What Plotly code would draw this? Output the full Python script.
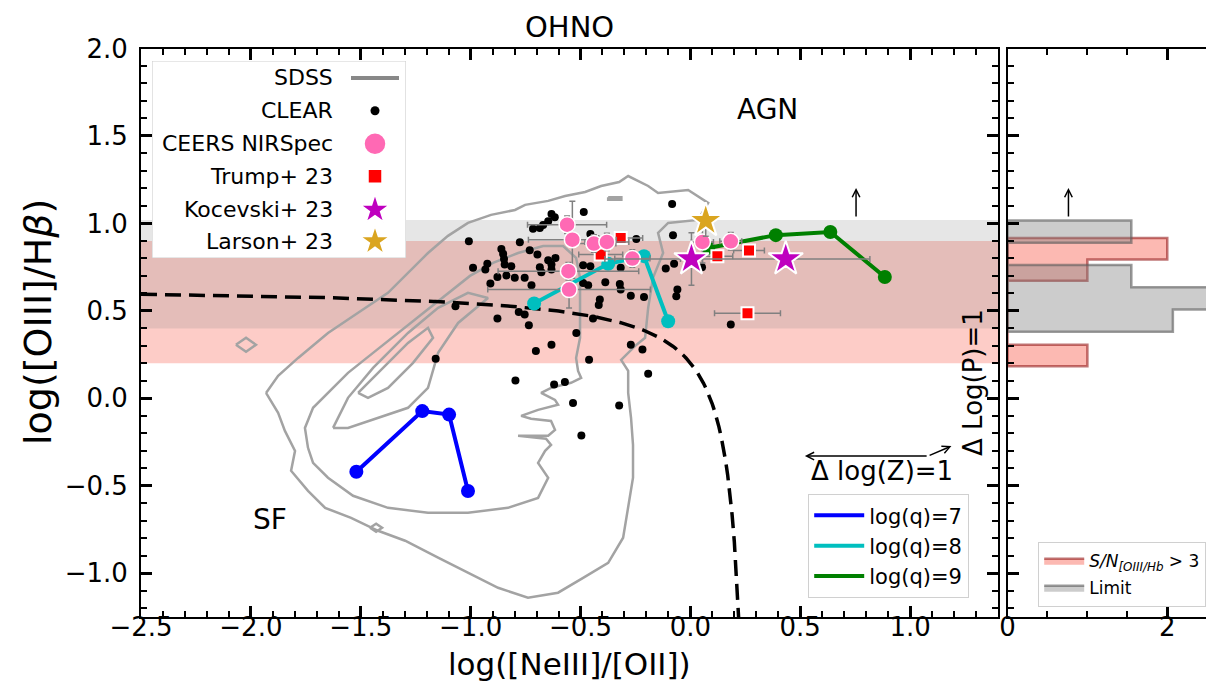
import plotly.graph_objects as go

W, H = 1214, 681
FONT = "DejaVu Sans"

# ---------------- data ----------------
# SDSS contour levels (traced polylines, data units)
sdss_l1_x = [-1.931, -1.876, -1.845, -1.799, -1.817, -1.740, -1.662, -1.544, -1.421, -1.298, -1.148, -1.012, -0.875, -0.739, -0.602, -0.488, -0.374, -0.306, -0.283, -0.261, -0.261, -0.270, -0.283, -0.283, -0.315, -0.251, -0.206, -0.192, -0.170, -0.124, -0.147, -0.101, 0.035, 0.081, -0.010, -0.147, -0.192, -0.283, -0.324, -0.406, -0.479, -0.570, -0.647, -0.752, -0.798, -0.907, -1.012, -1.103, -1.194, -1.285, -1.376, -1.512, -1.649, -1.785, -1.876, -1.931]
sdss_l1_y = [0.031, -0.083, -0.186, -0.300, -0.414, -0.529, -0.626, -0.683, -0.757, -0.814, -0.911, -0.997, -1.083, -1.140, -1.111, -1.026, -0.940, -0.797, -0.626, -0.454, -0.266, -0.111, 0.031, 0.157, 0.220, 0.300, 0.346, 0.517, 0.689, 0.831, 0.946, 1.003, 1.020, 1.117, 1.191, 1.174, 1.214, 1.271, 1.237, 1.214, 1.180, 1.157, 1.129, 1.106, 1.077, 1.049, 1.003, 0.929, 0.831, 0.717, 0.603, 0.489, 0.374, 0.231, 0.129, 0.031]
sdss_l2_x = [-1.740, -1.754, -1.717, -1.649, -1.558, -1.444, -1.330, -1.216, -1.103, -1.003, -0.898, -0.784, -0.670, -0.579, -0.520, -0.502, -0.502, -0.502, -0.520, -0.511, -0.497, -0.543, -0.634, -0.679, -0.616, -0.602, -0.693, -0.770, -0.725, -0.634, -0.616, -0.647, -0.784, -0.657, -0.634, -0.661, -0.693, -0.647, -0.693, -0.830, -1.012, -1.194, -1.376, -1.535, -1.649, -1.717, -1.740]
sdss_l2_y = [-0.283, -0.169, -0.054, 0.031, 0.146, 0.260, 0.374, 0.489, 0.603, 0.700, 0.774, 0.831, 0.871, 0.871, 0.803, 0.689, 0.517, 0.346, 0.231, 0.157, 0.117, 0.089, 0.060, 0.031, -0.009, -0.037, -0.066, -0.100, -0.117, -0.129, -0.180, -0.214, -0.214, -0.231, -0.266, -0.300, -0.369, -0.454, -0.569, -0.626, -0.654, -0.654, -0.626, -0.557, -0.454, -0.369, -0.283]
sdss_l3_x = [-1.626, -1.558, -1.444, -1.285, -1.148, -1.012, -0.921, -1.057, -1.148, -1.194, -1.285, -1.421, -1.558, -1.626]
sdss_l3_y = [-0.169, 0.003, 0.174, 0.374, 0.517, 0.603, 0.574, 0.431, 0.260, 0.060, -0.054, -0.111, -0.169, -0.169]
sdss_l4_x = [-1.512, -1.421, -1.285, -1.194, -1.171, -1.262, -1.376, -1.467, -1.512]
sdss_l4_y = [0.031, 0.146, 0.317, 0.403, 0.346, 0.203, 0.060, 0.003, 0.031]
sdss_i1_x = [-2.068, -2.022, -1.977, -2.022, -2.068]
sdss_i1_y = [0.306, 0.346, 0.306, 0.266, 0.306]
sdss_i2_x = [-1.458, -1.430, -1.403, -1.430, -1.458]
sdss_i2_y = [-0.740, -0.717, -0.740, -0.763, -0.740]
sdss_i3_x = [-0.374, -0.314, -0.314, -0.374, -0.374]
sdss_i3_y = [1.150, 1.150, 1.135, 1.135, 1.150]

# CLEAR galaxies
clear_x = [-0.083, -0.485, -0.632, -0.617, -0.647, -0.685, -0.716, -0.670, -0.455, -0.246, -1.008, -0.776, -0.079, -0.860, -0.731, -0.696, -0.852, -0.848, -0.647, -0.614, -0.924, -0.815, -0.685, -0.632, -0.488, -0.455, -0.989, -0.933, -0.317, -0.112, -0.074, 0.053, -0.678, -0.632, -0.878, -0.837, -0.799, -0.754, -0.910, -0.723, -0.488, -0.465, -0.387, -0.321, -0.317, -0.059, -0.064, -0.271, -0.211, -0.412, -0.417, -1.069, -0.781, -0.754, -0.878, -0.443, -0.735, 0.184, -0.519, -0.632, -0.271, -0.703, -0.218, -0.461, -0.796, -0.620, -0.571, -0.192, -0.534, -0.324, -0.496, -1.159, -0.845]
clear_y = [1.111, 1.066, 1.054, 1.035, 1.013, 0.974, 0.970, 0.991, 0.940, 0.911, 0.898, 0.893, 0.933, 0.854, 0.847, 0.822, 0.826, 0.797, 0.790, 0.803, 0.769, 0.755, 0.750, 0.765, 0.761, 0.755, 0.746, 0.736, 0.746, 0.742, 0.769, 0.750, 0.721, 0.736, 0.694, 0.702, 0.689, 0.689, 0.656, 0.647, 0.660, 0.647, 0.664, 0.654, 0.622, 0.622, 0.584, 0.587, 0.580, 0.565, 0.533, 0.527, 0.493, 0.479, 0.456, 0.456, 0.418, 0.422, 0.374, 0.307, 0.307, 0.270, 0.279, 0.220, 0.102, 0.079, 0.093, 0.140, -0.026, -0.041, -0.213, 0.227, 0.765]

# CEERS NIRSpec
ceers_x = [-0.561, -0.537, -0.439, -0.380, -0.264, -0.555, -0.552, 0.055, 0.184]
ceers_y = [0.993, 0.907, 0.885, 0.894, 0.799, 0.727, 0.622, 0.894, 0.898]
ceers_xerr = [0.18, 0.20, 0.10, 0.10, 0.08, 0.32, 0.37, 0.05, 0.05]
ceers_yerr = [0.05, 0.22, 0.05, 0.05, 0.05, 0.05, 0.105, 0.12, 0.05]

# Trump+23
trump_x = [-0.317, -0.408, 0.123, 0.267, 0.260]
trump_y = [0.917, 0.822, 0.813, 0.845, 0.487]
trump_xerr = [0.10, 0.10, 0.07, 0.07, 0.15]
trump_yerr = [0.03, 0.03, 0.03, 0.03, 0.03]

# Kocevski+23
koc_x = [0.005, 0.434]
koc_y = [0.797, 0.797]
koc_xerr_minus = [0.05, 0.823]
koc_xerr_plus = [0.05, 0.383]
koc_yerr = [0.15, 0.02]

# Larson+23
lar_x = [0.070]
lar_y = [1.016]
lar_yerr_minus = [0.09]

# photoionisation model tracks
q7_x = [-1.520, -1.220, -1.098, -1.012]
q7_y = [-0.420, -0.073, -0.093, -0.530]
q8_x = [-0.711, -0.374, -0.211, -0.101]
q8_y = [0.542, 0.769, 0.813, 0.441]
q9_x = [0.081, 0.389, 0.637, 0.885]
q9_y = [0.860, 0.933, 0.951, 0.694]

# demarcation line log(OIII/Hb) = a / (b*x - c) + d
demarc_a, demarc_b, demarc_c, demarc_d = 0.35, 2.8, 0.8, 0.64
demarc_x = [-2.5 + i * 0.01 for i in range(273)]

# histograms of log(OIII/Hb) (stepfilled)
hist_sn_edges = [0.184, 0.306, 0.428, 0.550, 0.672, 0.794, 0.916]
hist_sn_counts = [1.0, 0.0, 0.0, 0.0, 1.0, 2.0]
hist_lim_edges = [0.381, 0.508, 0.635, 0.762, 0.889, 1.016]
hist_lim_counts = [2.07, 2.58, 1.55, 0.0, 1.55]

# shaded bands
band_sn = (0.20, 0.90)
band_lim = (0.40, 1.02)

# legend labels
leg1_labels = ["SDSS", "CLEAR", "CEERS NIRSpec", "Trump+ 23", "Kocevski+ 23", "Larson+ 23"]

# ---------------- figure ----------------
fig = go.Figure()

GRAYC = "#a3a3a3"
sdss = [(sdss_l1_x, sdss_l1_y), (sdss_l2_x, sdss_l2_y), (sdss_l3_x, sdss_l3_y), (sdss_l4_x, sdss_l4_y),
        (sdss_i1_x, sdss_i1_y), (sdss_i2_x, sdss_i2_y), (sdss_i3_x, sdss_i3_y)]
for cx, cy in sdss:
    fig.add_trace(go.Scatter(x=cx, y=cy, mode="lines", line=dict(color=GRAYC, width=2.5),
                             showlegend=False, hoverinfo="skip"))

fig.add_trace(go.Scatter(x=clear_x, y=clear_y, mode="markers", showlegend=False,
                         marker=dict(color="black", size=8)))

demarc_y = [demarc_a / (demarc_b * x - demarc_c) + demarc_d for x in demarc_x]
fig.add_trace(go.Scatter(x=demarc_x, y=demarc_y, mode="lines", showlegend=False,
                         line=dict(color="black", width=3.5, dash="16px,8px")))

tracks = [("log(q)=7", q7_x, q7_y, "#0000ff"),
          ("log(q)=8", q8_x, q8_y, "#00bfbf"),
          ("log(q)=9", q9_x, q9_y, "#008000")]
for nm, tx, ty, col in tracks:
    fig.add_trace(go.Scatter(x=tx, y=ty, mode="lines+markers", showlegend=False,
                             line=dict(color=col, width=4), marker=dict(color=col, size=14)))
for nm, tx, ty, col in tracks:
    fig.add_trace(go.Scatter(x=[None], y=[None], mode="lines", name=nm, legendgroup=nm,
                             line=dict(color=col, width=4), legend="legend2"))

ERR = dict(color="#808080", thickness=1.5, width=3)
fig.add_trace(go.Scatter(x=trump_x, y=trump_y, mode="markers", showlegend=False,
                         marker=dict(color="red", symbol="square", size=12, line=dict(color="white", width=2)),
                         error_x=dict(type="data", array=trump_xerr, **ERR),
                         error_y=dict(type="data", array=trump_yerr, **ERR)))
fig.add_trace(go.Scatter(x=ceers_x, y=ceers_y, mode="markers", showlegend=False,
                         marker=dict(color="#ff69b4", size=16, line=dict(color="white", width=1.5)),
                         error_x=dict(type="data", array=ceers_xerr, **ERR),
                         error_y=dict(type="data", array=ceers_yerr, **ERR)))
fig.add_trace(go.Scatter(x=koc_x, y=koc_y, mode="markers", showlegend=False,
                         marker=dict(color="#bf00bf", symbol="star", size=26, line=dict(color="white", width=2)),
                         error_x=dict(type="data", symmetric=False, array=koc_xerr_plus, arrayminus=koc_xerr_minus, **ERR),
                         error_y=dict(type="data", array=koc_yerr, **ERR)))
fig.add_trace(go.Scatter(x=lar_x, y=lar_y, mode="markers", showlegend=False,
                         marker=dict(color="#daa520", symbol="star", size=26, line=dict(color="white", width=2)),
                         error_y=dict(type="data", symmetric=False, array=[0], arrayminus=lar_yerr_minus, **ERR)))


def step_poly(edges, counts):
    px, py = [0.0], [edges[0]]
    for i, c in enumerate(counts):
        px += [c, c]
        py += [edges[i], edges[i + 1]]
    px += [0.0, 0.0]
    py += [edges[-1], edges[0]]
    return px, py


sx, sy = step_poly(hist_sn_edges, hist_sn_counts)
fig.add_trace(go.Scatter(x=sx, y=sy, xaxis="x2", yaxis="y2", mode="lines", fill="toself",
                         fillcolor="rgba(250,128,114,0.55)", line=dict(color="rgba(150,30,30,0.6)", width=2.5),
                         name="<i>S/N</i><sub><i>[OIII/Hb</i></sub> > 3", legend="legend3", legendgroup="sn"))
lx, ly = step_poly(hist_lim_edges, hist_lim_counts)
fig.add_trace(go.Scatter(x=lx, y=ly, xaxis="x2", yaxis="y2", mode="lines", fill="toself",
                         fillcolor="rgba(128,128,128,0.4)", line=dict(color="rgba(90,90,90,0.6)", width=2.5),
                         name="Limit", legend="legend3", legendgroup="lim"))

# ---- legend 1 (labels right-aligned, keys on the right), drawn on a pixel-scaled overlay axis ----
LB = dict(x0=144, x1=398, y0=53, y1=250)           # legend box (pixels)
rows = [70, 102.7, 135.7, 168.3, 201.7, 233.3]      # row centres (pixels)
key_x, text_x = 367, 327
fig.add_trace(go.Scatter(x=[LB["x0"], LB["x1"], LB["x1"], LB["x0"], LB["x0"]],
                         y=[LB["y0"], LB["y0"], LB["y1"], LB["y1"], LB["y0"]],
                         xaxis="x3", yaxis="y3", mode="lines", fill="toself",
                         fillcolor="rgba(255,255,255,0.8)", line=dict(color="#d0d0d0", width=1.2),
                         showlegend=False, hoverinfo="skip"))
fig.add_trace(go.Scatter(x=[key_x - 24, key_x + 24], y=[rows[0], rows[0]], xaxis="x3", yaxis="y3",
                         mode="lines", line=dict(color="#888888", width=4), showlegend=False, hoverinfo="skip"))
leg_keys = [
    dict(color="black", size=9),
    dict(color="#ff69b4", size=22, line=dict(color="white", width=1.5)),
    dict(color="red", symbol="square", size=14, line=dict(color="white", width=1.5)),
    dict(color="#bf00bf", symbol="star", size=22, line=dict(color="white", width=1.5)),
    dict(color="#daa520", symbol="star", size=22, line=dict(color="white", width=1.5)),
]
for r, mk in zip(rows[1:], leg_keys):
    fig.add_trace(go.Scatter(x=[key_x], y=[r], xaxis="x3", yaxis="y3", mode="markers", marker=mk,
                             showlegend=False, hoverinfo="skip"))

# bands
fig.add_shape(type="rect", xref="x domain", yref="y", x0=0, x1=1, y0=band_sn[0], y1=band_sn[1],
              fillcolor="rgba(250,128,114,0.4)", line_width=0, layer="below")
fig.add_shape(type="rect", xref="x domain", yref="y", x0=0, x1=1, y0=band_lim[0], y1=band_lim[1],
              fillcolor="rgba(128,128,128,0.2)", line_width=0, layer="below")

TICKF = dict(family=FONT, size=26, color="black")
axis_common = dict(showline=True, linecolor="black", linewidth=2, mirror="allticks", ticks="inside",
                   ticklen=11, tickwidth=2.5, tickcolor="black", showgrid=False, zeroline=False,
                   tickfont=TICKF, automargin=False)
MINOR = dict(ticks="inside", ticklen=6, tickwidth=2, tickcolor="black")
xd = [133 / W, 990 / W]
x2d = [999.5 / W, 1212 / W]
yd = [1 - 609 / H, 1 - 40.5 / H]

fig.update_layout(
    width=W, height=H, margin=dict(l=0, r=0, t=0, b=0, autoexpand=False),
    paper_bgcolor="white", plot_bgcolor="white",
    font=dict(family=FONT, color="black"),
    xaxis=dict(domain=xd, range=[-2.5, 1.4], dtick=0.5, tick0=-2.5, tickformat=".1f",
               minor=dict(dtick=0.1, **MINOR), anchor="y", ticklabelstandoff=-14, **axis_common),
    yaxis=dict(domain=yd, range=[-1.25, 2.0], dtick=0.5, tick0=0, tickformat=".1f",
               minor=dict(dtick=0.1, **MINOR), anchor="x", ticklabelstandoff=6, **axis_common),
    xaxis2=dict(domain=x2d, range=[0, 2.66], tickvals=[0, 2], ticktext=["0", "2"],
                minor=dict(dtick=0.5, **MINOR), anchor="y2", ticklabelstandoff=-14, **axis_common),
    yaxis2=dict(domain=yd, range=[-1.25, 2.0], dtick=0.5, tick0=0, showticklabels=False,
                minor=dict(dtick=0.1, **MINOR), anchor="x2", **axis_common),
    xaxis3=dict(domain=[LB["x0"] / W, LB["x1"] / W], range=[LB["x0"], LB["x1"]], visible=False,
                anchor="y3", fixedrange=True),
    yaxis3=dict(domain=[1 - LB["y1"] / H, 1 - LB["y0"] / H], range=[LB["y1"], LB["y0"]], visible=False,
                anchor="x3", fixedrange=True),
    legend2=dict(x=800 / W, y=1 - 486 / H, xanchor="left", yanchor="top", bgcolor="rgba(255,255,255,0.8)",
                 bordercolor="#d0d0d0", borderwidth=1.2, font=dict(family=FONT, size=21),
                 itemwidth=50, tracegroupgap=0),
    legend3=dict(x=1030 / W, y=1 - 534 / H, xanchor="left", yanchor="top", bgcolor="rgba(255,255,255,0.8)",
                 bordercolor="#d0d0d0", borderwidth=1.2, font=dict(family=FONT, size=17),
                 itemwidth=40, tracegroupgap=2),
    showlegend=True,
)

ann = []
for r, lab in zip(rows, leg1_labels):
    ann.append(dict(text=lab, xref="x3", yref="y3", x=text_x, y=r, xanchor="right", yanchor="middle",
                    showarrow=False, font=dict(size=22)))
ann.append(dict(text="OHNO", xref="paper", yref="paper", x=561.5 / W, y=1 - 19 / H, showarrow=False,
                font=dict(size=29), xanchor="center", yanchor="middle"))
ann.append(dict(text="log([NeIII]/[OII])", xref="paper", yref="paper", x=561.5 / W, y=1 - 656 / H,
                showarrow=False, font=dict(size=31), xanchor="center", yanchor="middle"))
ann.append(dict(text="log([OIII]/H<i>β</i>)", xref="paper", yref="paper", x=30 / W, y=1 - 314 / H,
                showarrow=False, font=dict(size=38), textangle=-90, xanchor="center", yanchor="middle"))
ann.append(dict(text="AGN", xref="x", yref="y", x=0.349, y=1.654, showarrow=False, font=dict(size=28)))
ann.append(dict(text="SF", xref="x", yref="y", x=-1.913, y=-0.694, showarrow=False, font=dict(size=28)))
ann.append(dict(text="Δ log(Z)=1", xref="x", yref="y", x=0.873, y=-0.414, showarrow=False, font=dict(size=26)))
ann.append(dict(text="Δ Log(P)=1", xref="x", yref="y", x=1.287, y=0.089, showarrow=False, font=dict(size=26),
                textangle=-90))
# arrows
ann.append(dict(text="", xref="x", yref="y", axref="x", ayref="y", x=0.521, y=-0.330, ax=1.082, ay=-0.330,
                showarrow=True, arrowhead=5, arrowsize=1, arrowwidth=1.5, arrowcolor="black"))
ann.append(dict(text="", xref="x", yref="y", axref="x", ayref="y", x=1.188, y=-0.273, ax=1.082, ay=-0.330,
                showarrow=True, arrowhead=5, arrowsize=1, arrowwidth=1.5, arrowcolor="black"))
ann.append(dict(text="", xref="x", yref="y", axref="x", ayref="y", x=0.754, y=1.203, ax=0.754, ay=1.031,
                showarrow=True, arrowhead=5, arrowsize=1, arrowwidth=1.5, arrowcolor="black"))
ann.append(dict(text="", xref="x2", yref="y2", axref="x2", ayref="y2", x=0.763, y=1.203, ax=0.763, ay=1.031,
                showarrow=True, arrowhead=5, arrowsize=1, arrowwidth=1.5, arrowcolor="black"))
fig.update_layout(annotations=ann)

fig.write_html("out.html")
